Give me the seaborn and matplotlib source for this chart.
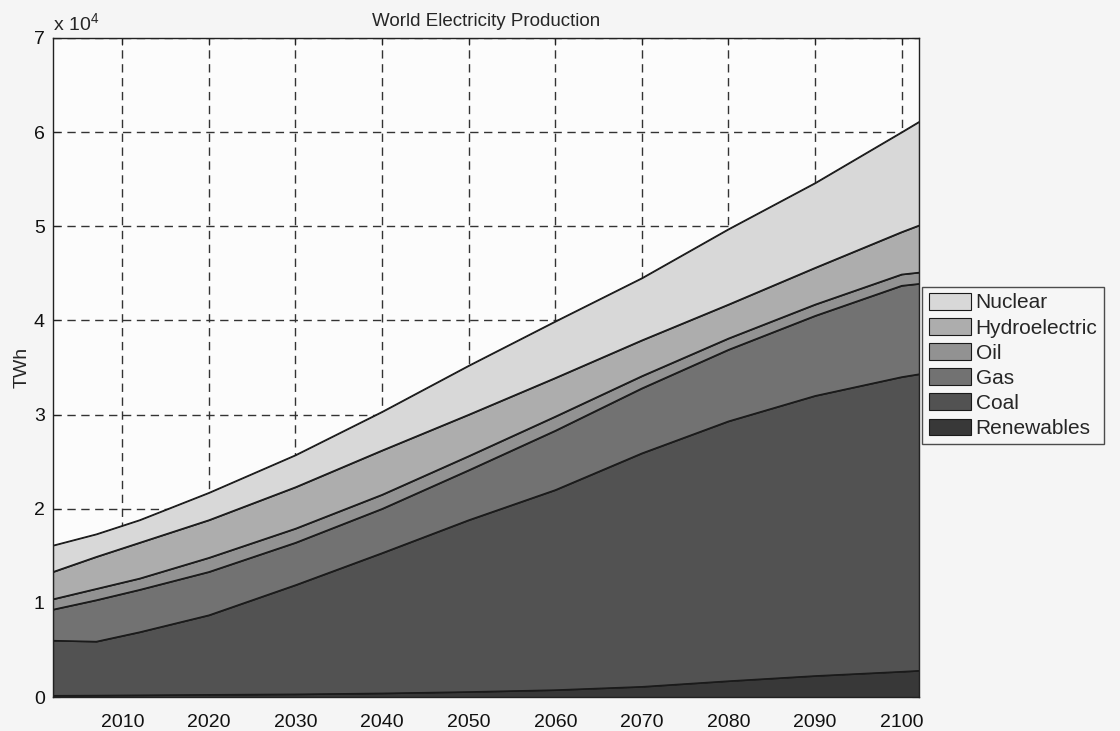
import numpy as np
import pandas as pd
import matplotlib
matplotlib.use("Agg")
import matplotlib.pyplot as plt
import seaborn as sns

# ---- data (TWh, per source, stacked bottom -> top) ----
years = [2002, 2007, 2012, 2020, 2030, 2040, 2050, 2060, 2070, 2080, 2090, 2100, 2102]
renewables = [150, 170, 200, 250, 300, 400, 550, 750, 1100, 1700, 2250, 2700, 2800]
coal = [5850, 5730, 6700, 8450, 11600, 14900, 18250, 21250, 24800, 27600, 29750, 31300, 31500]
gas = [3300, 4400, 4500, 4600, 4500, 4700, 5300, 6300, 6900, 7600, 8500, 9700, 9600]
oil = [1100, 1200, 1200, 1500, 1500, 1500, 1500, 1500, 1300, 1200, 1200, 1200, 1200]
hydro = [2900, 3400, 3800, 4000, 4400, 4700, 4400, 4100, 3800, 3600, 3900, 4500, 5000]
nuclear = [2800, 2400, 2400, 2900, 3400, 4100, 5200, 6000, 6600, 8000, 9000, 10600, 11000]

sources = ["Renewables", "Coal", "Gas", "Oil", "Hydroelectric", "Nuclear"]
series = [renewables, coal, gas, oil, hydro, nuclear]
colors = ["#383838", "#525252", "#727272", "#929292", "#adadad", "#d8d8d8"]

xticks = [2010, 2020, 2030, 2040, 2050, 2060, 2070, 2080, 2090, 2100]
yticks = [0, 10000, 20000, 30000, 40000, 50000, 60000, 70000]
ytick_labels = ["0", "1", "2", "3", "4", "5", "6", "7"]

sns.set_theme(style="white")
plt.rcParams["font.family"] = ["Liberation Sans", "DejaVu Sans"]

fig = plt.figure(figsize=(11.2, 7.31), dpi=100, facecolor="#f5f5f5")
ax = fig.add_axes([53 / 1120, 34 / 731, 866 / 1120, 659 / 731])
ax.set_facecolor("#fcfcfc")

polys = ax.stackplot(years, *series, labels=sources, colors=colors,
                     edgecolor="#1a1a1a", linewidth=0.8, zorder=2)

# boundary lines via seaborn
cum = np.cumsum(np.array(series, dtype=float), axis=0)
long = pd.DataFrame({
    "year": np.tile(years, len(sources)),
    "value": cum.ravel(),
    "source": np.repeat(sources, len(years)),
})
sns.lineplot(data=long, x="year", y="value", units="source", estimator=None,
             color="#1a1a1a", linewidth=0.9, legend=False, ax=ax, zorder=3)

ax.set_xlim(2002, 2102)
ax.set_ylim(0, 70000)
ax.set_xticks(xticks)
ax.set_xticklabels([str(t) for t in xticks], fontsize=14)
ax.set_yticks(yticks)
ax.set_yticklabels(ytick_labels, fontsize=14)
ax.set_xlabel("")
ax.set_ylabel("TWh", fontsize=14, labelpad=2)
ax.set_title("World Electricity Production", fontsize=13.5, pad=9)

ax.grid(True, color="#333333", linestyle=(0, (6, 4)), linewidth=1.0)
ax.set_axisbelow(True)
ax.tick_params(direction="in", length=5, width=0.8, top=True, right=True,
               bottom=True, left=True, colors="#222222", labelcolor="#111111", pad=6)
ax.tick_params(axis="x", pad=12)
for s in ax.spines.values():
    s.set_color("#222222")
    s.set_linewidth(1.0)
    s.set_zorder(5)

ax.text(0.0, 1.005, r"x 10$^{\mathregular{4}}$", transform=ax.transAxes,
        fontsize=14, ha="left", va="bottom")

handles = list(polys)[::-1]
labels = sources[::-1]
leg = ax.legend(handles, labels, loc="center left", bbox_to_anchor=(1.004, 0.503),
                fontsize=15, frameon=True, fancybox=False, borderaxespad=0,
                handlelength=2.05, handleheight=0.85, handletextpad=0.2,
                labelspacing=0.27, borderpad=0.3)
leg.get_frame().set_edgecolor("#222222")
leg.get_frame().set_linewidth(1.0)
leg.get_frame().set_facecolor("#f7f7f7")

fig.savefig("out.png", dpi=100, facecolor=fig.get_facecolor())
